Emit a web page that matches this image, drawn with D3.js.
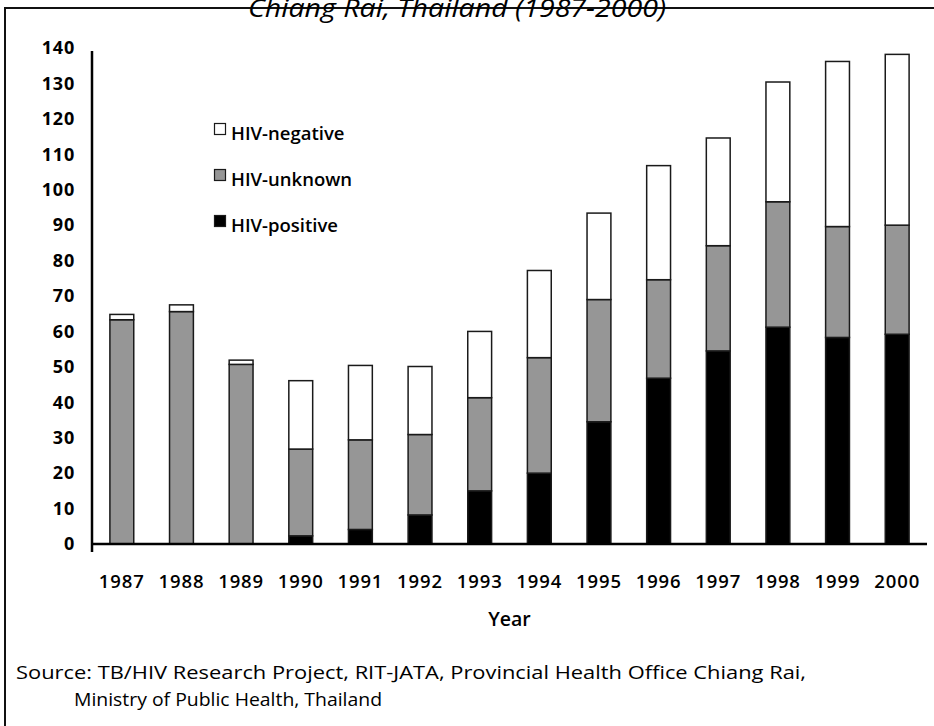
<!DOCTYPE html>
<html>
<head>
<meta charset="utf-8">
<script src="https://cdn.jsdelivr.net/npm/d3@7"></script>
<style>
    body { margin: 0; background: #fff; }
    svg { display: block; font-family: "Open Sans", sans-serif; }
</style>
</head>
<body>
<div id="chart"></div>
<script>
// values (segment heights per year)
var years = ['1987', '1988', '1989', '1990', '1991', '1992', '1993', '1994', '1995', '1996', '1997', '1998', '1999', '2000'];
var hivPositive = [0, 0, 0, 2.3, 4.1, 8.2, 15.0, 20.0, 34.5, 46.8, 54.5, 61.2, 58.3, 59.2];
var hivUnknown  = [63.3, 65.6, 50.7, 24.5, 25.3, 22.7, 26.3, 32.6, 34.5, 27.8, 29.7, 35.4, 31.3, 30.8];
var hivNegative = [1.5, 1.9, 1.2, 19.3, 21.0, 19.2, 18.7, 24.6, 24.4, 32.2, 30.4, 33.8, 46.6, 48.2];
var yTicks = [0, 10, 20, 30, 40, 50, 60, 70, 80, 90, 100, 110, 120, 130, 140];
var seriesKeys = ['positive', 'unknown', 'negative'];
var legendItems = ['HIV-negative', 'HIV-unknown', 'HIV-positive'];
var legendKeys = ['negative', 'unknown', 'positive'];

var width = 934, height = 726;

var colors = {positive: '#000000', unknown: '#969696', negative: '#ffffff'};

var rows = years.map(function (y, i) {
    return {year: y, positive: hivPositive[i], unknown: hivUnknown[i], negative: hivNegative[i]};
});

var svg = d3.select('#chart')
    .append('svg')
    .attr('width', width)
    .attr('height', height);

// frame round the whole figure
svg.append('rect')
    .attr('x', 5)
    .attr('y', 8)
    .attr('width', 940)
    .attr('height', 730)
    .attr('fill', 'none')
    .attr('stroke', '#111')
    .attr('stroke-width', 2);

// title, cut off at the top like the source
svg.append('text')
    .attr('x', 457)
    .attr('y', 17)
    .attr('text-anchor', 'middle')
    .attr('font-style', 'italic')
    .attr('font-size', 25)
    .attr('textLength', 418)
    .attr('lengthAdjust', 'spacingAndGlyphs')
    .text('Chiang Rai, Thailand (1987-2000)');

var x = d3.scaleBand()
    .domain(years)
    .range([92, 927])
    .paddingInner(0.6)
    .paddingOuter(0.3);

var y = d3.scaleLinear()
    .domain([0, 140])
    .range([544, 48]);

var stacked = d3.stack().keys(seriesKeys)(rows);

svg.append('g')
    .selectAll('g')
    .data(stacked)
    .enter()
    .append('g')
    .attr('fill', function (d) { return colors[d.key]; })
    .selectAll('rect')
    .data(function (d) { return d; })
    .enter()
    .append('rect')
    .attr('x', function (d) { return x(d.data.year); })
    .attr('width', x.bandwidth())
    .attr('y', function (d) { return y(d[1]); })
    .attr('height', function (d) { return y(d[0]) - y(d[1]); })
    .attr('stroke', '#1a1a1a')
    .attr('stroke-width', 1.5);

// y axis
var yAxis = svg.append('g')
    .attr('transform', 'translate(92,0)')
    .call(d3.axisLeft(y).tickValues(yTicks).tickSize(0).tickPadding(17));
yAxis.select('.domain')
    .attr('d', 'M0,' + (y(140) + 3) + 'V' + (y(0) + 8))
    .attr('stroke', '#000')
    .attr('stroke-width', 2.5);
yAxis.selectAll('text')
    .attr('font-family', '"Open Sans", sans-serif')
    .attr('font-size', 18)
    .attr('font-weight', 'bold')
    .attr('letter-spacing', 0.8)
    .attr('fill', '#000');

// x axis
var xAxis = svg.append('g')
    .attr('transform', 'translate(0,' + y(0) + ')')
    .call(d3.axisBottom(x).tickSize(0).tickPadding(31));
xAxis.select('.domain')
    .attr('d', 'M92,0H927')
    .attr('stroke', '#000')
    .attr('stroke-width', 2.5);
xAxis.selectAll('text')
    .attr('font-family', '"Open Sans", sans-serif')
    .attr('font-size', 18.5)
    .attr('font-weight', 600)
    .attr('letter-spacing', 0.9)
    .attr('fill', '#000');

svg.append('text')
    .attr('x', (92 + 927) / 2)
    .attr('y', 626)
    .attr('text-anchor', 'middle')
    .attr('font-size', 19.5)
    .attr('font-weight', 600)
    .text('Year');

// legend
var legend = svg.append('g')
    .selectAll('g')
    .data(legendItems)
    .enter()
    .append('g')
    .attr('transform', function (d, i) { return 'translate(214,' + (140 + i * 46) + ')'; });

legend.append('rect')
    .attr('x', 0.5)
    .attr('y', -16.5)
    .attr('width', 11)
    .attr('height', 11)
    .attr('fill', function (d, i) { return colors[legendKeys[i]]; })
    .attr('stroke', '#1a1a1a')
    .attr('stroke-width', 1.2);

legend.append('text')
    .attr('x', 17)
    .attr('y', 0)
    .attr('font-size', 18.5)
    .attr('font-weight', 600)
    .text(function (d) { return d; });

// source note
svg.append('text')
    .attr('x', 16)
    .attr('y', 679)
    .attr('font-size', 18)
    .attr('textLength', 790)
    .attr('lengthAdjust', 'spacingAndGlyphs')
    .text('Source: TB/HIV Research Project, RIT-JATA, Provincial Health Office Chiang Rai,');

svg.append('text')
    .attr('x', 74)
    .attr('y', 706)
    .attr('font-size', 18)
    .attr('textLength', 308)
    .attr('lengthAdjust', 'spacingAndGlyphs')
    .text('Ministry of Public Health, Thailand');
</script>
</body>
</html>
